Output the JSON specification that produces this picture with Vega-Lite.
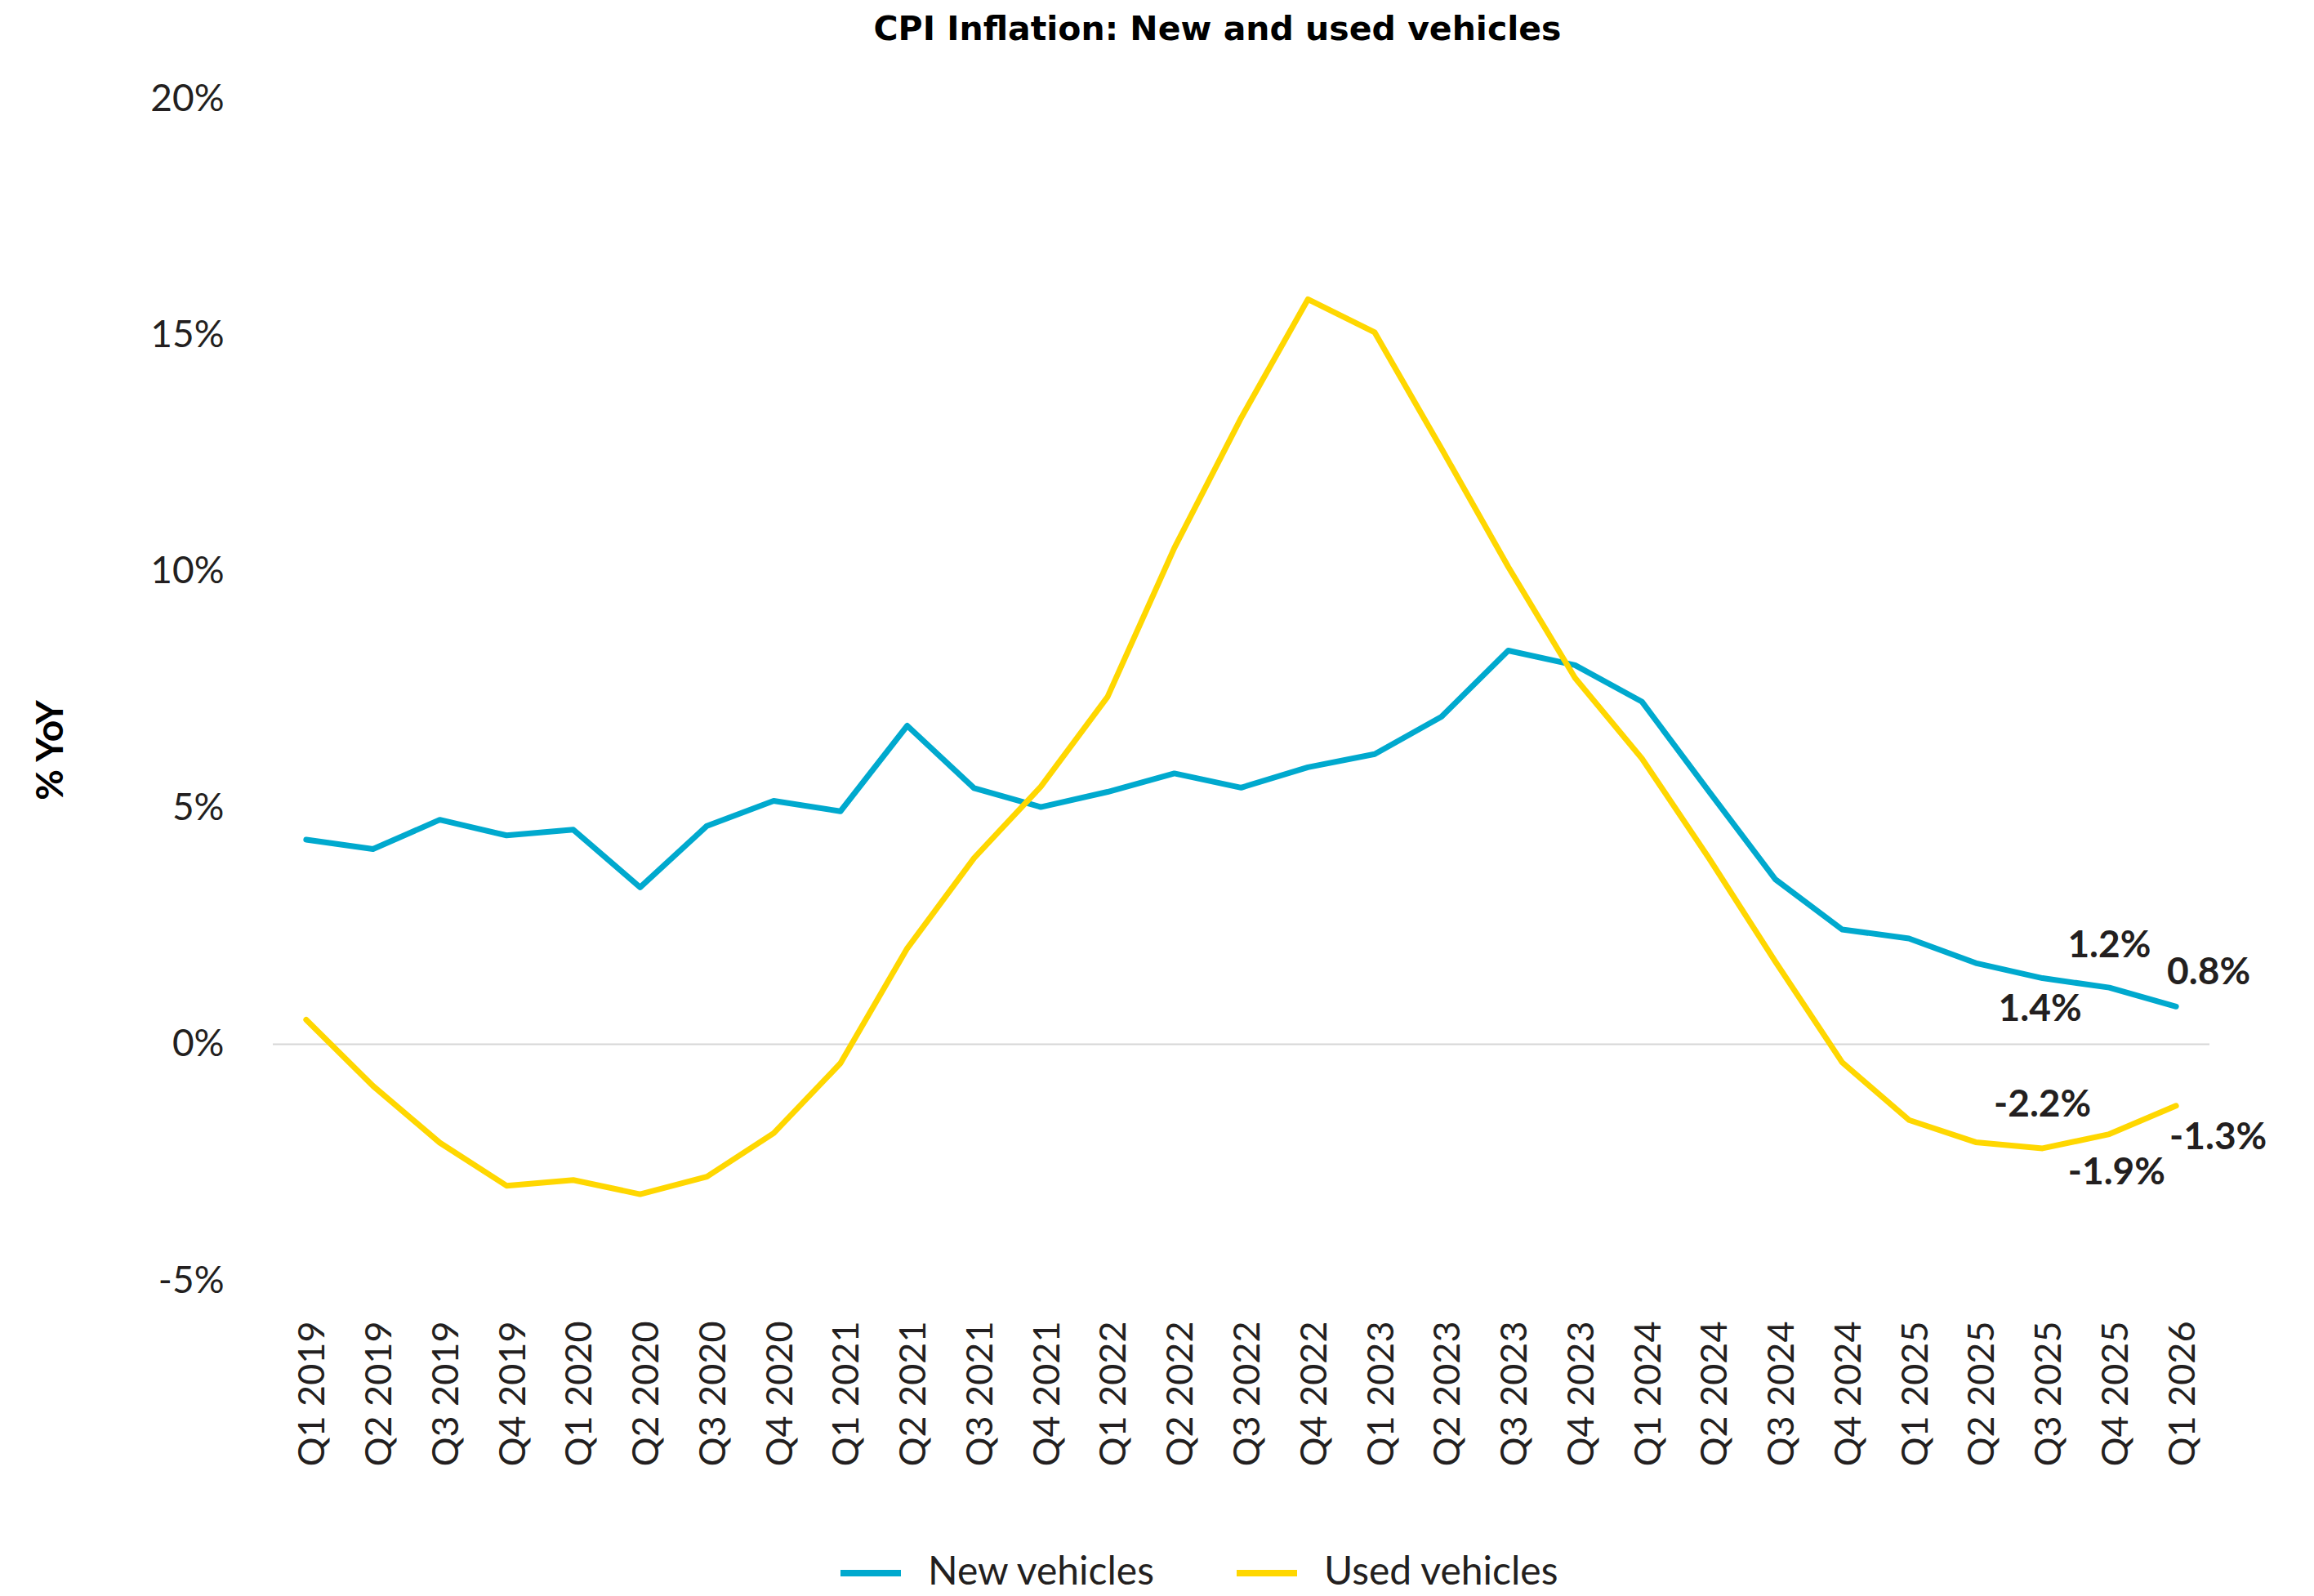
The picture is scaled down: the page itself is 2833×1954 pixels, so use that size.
{
  "$schema": "https://vega.github.io/schema/vega-lite/v6.json",
  "width": 2371,
  "height": 1447,
  "autosize": {"type": "none"},
  "padding": {"left": 334, "top": 121, "right": 128, "bottom": 386},
  "background": "white",
  "title": {
    "text": "CPI Inflation: New and used vehicles",
    "font": "DejaVu Sans",
    "fontWeight": "bold",
    "fontSize": 41,
    "color": "#000000",
    "anchor": "middle",
    "dx": -29,
    "offset": 40
  },
  "config": {
    "view": {"stroke": null},
    "font": "Lato"
  },
  "datasets": {
    "cpi": [
      {"quarter": "Q1 2019", "series": "New vehicles", "value": 4.33},
      {"quarter": "Q2 2019", "series": "New vehicles", "value": 4.13},
      {"quarter": "Q3 2019", "series": "New vehicles", "value": 4.75},
      {"quarter": "Q4 2019", "series": "New vehicles", "value": 4.42},
      {"quarter": "Q1 2020", "series": "New vehicles", "value": 4.54},
      {"quarter": "Q2 2020", "series": "New vehicles", "value": 3.32},
      {"quarter": "Q3 2020", "series": "New vehicles", "value": 4.62},
      {"quarter": "Q4 2020", "series": "New vehicles", "value": 5.15},
      {"quarter": "Q1 2021", "series": "New vehicles", "value": 4.93},
      {"quarter": "Q2 2021", "series": "New vehicles", "value": 6.74},
      {"quarter": "Q3 2021", "series": "New vehicles", "value": 5.42},
      {"quarter": "Q4 2021", "series": "New vehicles", "value": 5.02},
      {"quarter": "Q1 2022", "series": "New vehicles", "value": 5.34},
      {"quarter": "Q2 2022", "series": "New vehicles", "value": 5.73},
      {"quarter": "Q3 2022", "series": "New vehicles", "value": 5.43},
      {"quarter": "Q4 2022", "series": "New vehicles", "value": 5.86},
      {"quarter": "Q1 2023", "series": "New vehicles", "value": 6.14},
      {"quarter": "Q2 2023", "series": "New vehicles", "value": 6.93},
      {"quarter": "Q3 2023", "series": "New vehicles", "value": 8.33},
      {"quarter": "Q4 2023", "series": "New vehicles", "value": 8.02},
      {"quarter": "Q1 2024", "series": "New vehicles", "value": 7.25},
      {"quarter": "Q2 2024", "series": "New vehicles", "value": 5.36},
      {"quarter": "Q3 2024", "series": "New vehicles", "value": 3.49},
      {"quarter": "Q4 2024", "series": "New vehicles", "value": 2.43},
      {"quarter": "Q1 2025", "series": "New vehicles", "value": 2.24},
      {"quarter": "Q2 2025", "series": "New vehicles", "value": 1.72},
      {"quarter": "Q3 2025", "series": "New vehicles", "value": 1.4},
      {"quarter": "Q4 2025", "series": "New vehicles", "value": 1.2},
      {"quarter": "Q1 2026", "series": "New vehicles", "value": 0.8},
      {"quarter": "Q1 2019", "series": "Used vehicles", "value": 0.52},
      {"quarter": "Q2 2019", "series": "Used vehicles", "value": -0.88},
      {"quarter": "Q3 2019", "series": "Used vehicles", "value": -2.08},
      {"quarter": "Q4 2019", "series": "Used vehicles", "value": -2.99},
      {"quarter": "Q1 2020", "series": "Used vehicles", "value": -2.87},
      {"quarter": "Q2 2020", "series": "Used vehicles", "value": -3.17},
      {"quarter": "Q3 2020", "series": "Used vehicles", "value": -2.8},
      {"quarter": "Q4 2020", "series": "Used vehicles", "value": -1.88},
      {"quarter": "Q1 2021", "series": "Used vehicles", "value": -0.4},
      {"quarter": "Q2 2021", "series": "Used vehicles", "value": 2.03},
      {"quarter": "Q3 2021", "series": "Used vehicles", "value": 3.94},
      {"quarter": "Q4 2021", "series": "Used vehicles", "value": 5.45},
      {"quarter": "Q1 2022", "series": "Used vehicles", "value": 7.35},
      {"quarter": "Q2 2022", "series": "Used vehicles", "value": 10.5},
      {"quarter": "Q3 2022", "series": "Used vehicles", "value": 13.25},
      {"quarter": "Q4 2022", "series": "Used vehicles", "value": 15.76},
      {"quarter": "Q1 2023", "series": "Used vehicles", "value": 15.06},
      {"quarter": "Q2 2023", "series": "Used vehicles", "value": 12.6},
      {"quarter": "Q3 2023", "series": "Used vehicles", "value": 10.1},
      {"quarter": "Q4 2023", "series": "Used vehicles", "value": 7.75},
      {"quarter": "Q1 2024", "series": "Used vehicles", "value": 6.05},
      {"quarter": "Q2 2024", "series": "Used vehicles", "value": 3.95},
      {"quarter": "Q3 2024", "series": "Used vehicles", "value": 1.75},
      {"quarter": "Q4 2024", "series": "Used vehicles", "value": -0.38},
      {"quarter": "Q1 2025", "series": "Used vehicles", "value": -1.6},
      {"quarter": "Q2 2025", "series": "Used vehicles", "value": -2.07},
      {"quarter": "Q3 2025", "series": "Used vehicles", "value": -2.2},
      {"quarter": "Q4 2025", "series": "Used vehicles", "value": -1.9},
      {"quarter": "Q1 2026", "series": "Used vehicles", "value": -1.3}
    ]
  },
  "data": {"name": "cpi"},
  "encoding": {
    "x": {
      "field": "quarter",
      "type": "ordinal",
      "sort": null,
      "scale": {"type": "point", "padding": 0.5},
      "axis": {
        "title": null,
        "labelAngle": -90,
        "labelFont": "Lato",
        "labelFontSize": 45,
        "labelColor": "#231f20",
        "labelPadding": 49,
        "labelOffset": 8,
        "ticks": false,
        "domain": false,
        "grid": false
      }
    },
    "y": {
      "field": "value",
      "type": "quantitative",
      "scale": {"domain": [-5, 20], "nice": false, "zero": false},
      "axis": {
        "title": "% YoY",
        "titleFont": "Lato",
        "titleFontWeight": "bold",
        "titleFontSize": 46,
        "titleColor": "#000000",
        "titleAngle": -90,
        "titleAlign": "center",
        "titleBaseline": "alphabetic",
        "titleX": -258,
        "titleY": 797,
        "values": [-5, 0, 5, 10, 15, 20],
        "labelExpr": "datum.value + '%'",
        "labelFont": "Lato",
        "labelFontSize": 46,
        "labelColor": "#231f20",
        "labelPadding": 60,
        "ticks": false,
        "domain": false,
        "grid": false
      }
    }
  },
  "layer": [
    {
      "data": {"values": [{"zero": 0}]},
      "mark": {"type": "rule", "color": "#d6d6d6", "strokeWidth": 2},
      "encoding": {
        "x": null,
        "y": {"field": "zero", "type": "quantitative"}
      }
    },
    {
      "mark": {"type": "line", "strokeWidth": 7, "strokeCap": "round", "strokeJoin": "round"},
      "encoding": {
        "color": {
          "field": "series",
          "type": "nominal",
          "scale": {"domain": ["New vehicles", "Used vehicles"], "range": ["#00a9ce", "#ffd700"]},
          "legend": {
            "title": null,
            "orient": "none",
            "direction": "horizontal",
            "legendX": 691,
            "legendY": 1764,
            "padding": 0,
            "symbolType": "stroke",
            "symbolStrokeWidth": 8,
            "symbolSize": 5476,
            "labelFont": "Lato",
            "labelFontSize": 48,
            "labelColor": "#231f20",
            "labelLimit": 0,
            "labelOffset": 29,
            "columnPadding": 82
          }
        }
      }
    },
    {
      "transform": [
        {"filter": "datum.series === 'New vehicles' && datum.quarter === 'Q4 2025'"},
        {"calculate": "toString(datum.value) + '%'", "as": "label"}
      ],
      "mark": {"type": "text", "font": "Lato", "fontWeight": "bold", "fontSize": 46, "color": "#231f20", "align": "center", "baseline": "middle", "dy": -51},
      "encoding": {"text": {"field": "label"}}
    },
    {
      "transform": [
        {"filter": "datum.series === 'New vehicles' && datum.quarter === 'Q1 2026'"},
        {"calculate": "toString(datum.value) + '%'", "as": "label"}
      ],
      "mark": {"type": "text", "font": "Lato", "fontWeight": "bold", "fontSize": 46, "color": "#231f20", "align": "left", "baseline": "middle", "dx": -11, "dy": -41},
      "encoding": {"text": {"field": "label"}}
    },
    {
      "transform": [
        {"filter": "datum.series === 'New vehicles' && datum.quarter === 'Q3 2025'"},
        {"calculate": "toString(datum.value) + '%'", "as": "label"}
      ],
      "mark": {"type": "text", "font": "Lato", "fontWeight": "bold", "fontSize": 46, "color": "#231f20", "align": "center", "baseline": "middle", "dx": -3, "dy": 38},
      "encoding": {"text": {"field": "label"}}
    },
    {
      "transform": [
        {"filter": "datum.series === 'Used vehicles' && datum.quarter === 'Q3 2025'"},
        {"calculate": "toString(datum.value) + '%'", "as": "label"}
      ],
      "mark": {"type": "text", "font": "Lato", "fontWeight": "bold", "fontSize": 46, "color": "#231f20", "align": "center", "baseline": "middle", "dy": -53},
      "encoding": {"text": {"field": "label"}}
    },
    {
      "transform": [
        {"filter": "datum.series === 'Used vehicles' && datum.quarter === 'Q4 2025'"},
        {"calculate": "toString(datum.value) + '%'", "as": "label"}
      ],
      "mark": {"type": "text", "font": "Lato", "fontWeight": "bold", "fontSize": 46, "color": "#231f20", "align": "center", "baseline": "middle", "dx": 9, "dy": 47},
      "encoding": {"text": {"field": "label"}}
    },
    {
      "transform": [
        {"filter": "datum.series === 'Used vehicles' && datum.quarter === 'Q1 2026'"},
        {"calculate": "toString(datum.value) + '%'", "as": "label"}
      ],
      "mark": {"type": "text", "font": "Lato", "fontWeight": "bold", "fontSize": 46, "color": "#231f20", "align": "left", "baseline": "middle", "dx": -8, "dy": 39},
      "encoding": {"text": {"field": "label"}}
    }
  ]
}
